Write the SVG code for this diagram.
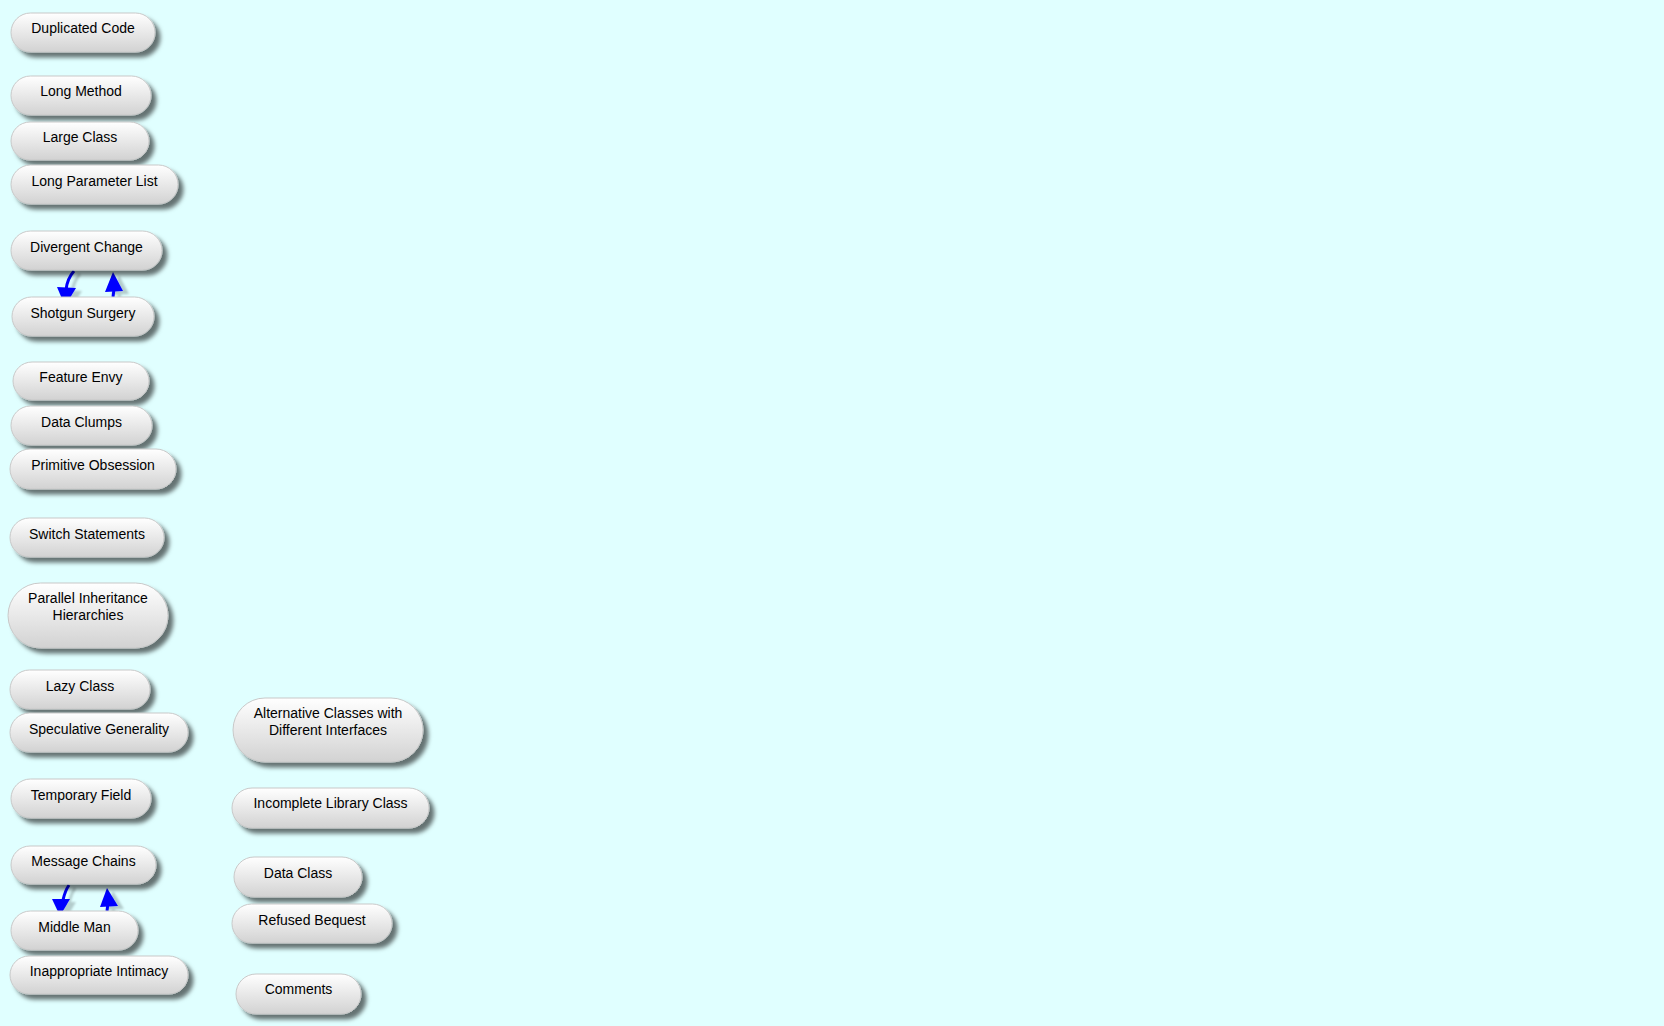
<svg xmlns="http://www.w3.org/2000/svg" width="1664" height="1026" viewBox="0 0 1664 1026">
<defs>
<linearGradient id="g" x1="0" y1="0" x2="0" y2="1">
<stop offset="0" stop-color="#ffffff"/>
<stop offset="1" stop-color="#d2d2d2"/>
</linearGradient>
<filter id="sh" x="-20%" y="-30%" width="150%" height="180%">
<feGaussianBlur in="SourceAlpha" stdDeviation="2"/>
<feOffset dx="5" dy="5" result="b"/>
<feFlood flood-color="#000" flood-opacity="0.55"/>
<feComposite in2="b" operator="in"/>
<feMerge><feMergeNode/><feMergeNode in="SourceGraphic"/></feMerge>
</filter>
<filter id="csh" x="-50%" y="-50%" width="200%" height="200%">
<feGaussianBlur in="SourceAlpha" stdDeviation="0.8"/>
<feOffset dx="6" dy="3" result="b"/>
<feFlood flood-color="#000" flood-opacity="0.2"/>
<feComposite in2="b" operator="in"/>
<feMerge><feMergeNode/><feMergeNode in="SourceGraphic"/></feMerge>
</filter>
</defs>
<style>
.n rect{fill:url(#g);stroke:#c8c8c8;stroke-width:1;filter:url(#sh)}
.n text{font-family:"Liberation Sans",Arial,sans-serif;font-size:14px;fill:#000;text-anchor:middle}
.c path.l{fill:none;stroke:#0000ff;stroke-width:3}
.c path.h{fill:#0000ff;stroke:none}
</style>
<rect width="1664" height="1026" fill="#e0ffff"/>
<g id="connectors" class="c" filter="url(#csh)">
<path class="l" d="M74,271 Q67,279 66,290"/>
<path class="h" d="M57,287 L76,288 L65,306 Z"/>
<path class="l" d="M113,297 L114,289"/>
<path class="h" d="M105,292 L123,291 L113,272 Z"/>
<path class="l" d="M69,885 Q65,891 63,900"/>
<path class="h" d="M52,899 L70,899 L60,916 Z"/>
<path class="l" d="M107,911 L108,903"/>
<path class="h" d="M100,907 L118,906 L107,888 Z"/>
</g>
<g id="n1" class="n"><rect x="11" y="13" width="144" height="39" rx="19.5"/><text x="83" y="33">Duplicated Code</text></g>
<g id="n2" class="n"><rect x="11" y="76" width="140" height="39" rx="19.5"/><text x="81" y="96">Long Method</text></g>
<g id="n3" class="n"><rect x="11" y="122" width="138" height="38" rx="19"/><text x="80" y="142">Large Class</text></g>
<g id="n4" class="n"><rect x="11" y="165" width="167" height="39" rx="19.5"/><text x="94.5" y="186">Long Parameter List</text></g>
<g id="n5" class="n"><rect x="11" y="231" width="151" height="39" rx="19.5"/><text x="86.5" y="252">Divergent Change</text></g>
<g id="n6" class="n"><rect x="12" y="297" width="142" height="39" rx="19.5"/><text x="83" y="318">Shotgun Surgery</text></g>
<g id="n7" class="n"><rect x="13" y="362" width="136" height="38" rx="19"/><text x="81" y="382">Feature Envy</text></g>
<g id="n8" class="n"><rect x="11" y="406" width="141" height="39" rx="19.5"/><text x="81.5" y="427">Data Clumps</text></g>
<g id="n9" class="n"><rect x="10" y="449" width="166" height="40" rx="20"/><text x="93" y="470">Primitive Obsession</text></g>
<g id="n10" class="n"><rect x="10" y="518" width="154" height="39" rx="19.5"/><text x="87" y="539">Switch Statements</text></g>
<g id="n11" class="n"><rect x="8" y="583" width="160" height="65" rx="32.5"/><text x="88" y="603">Parallel Inheritance</text><text x="88" y="620">Hierarchies</text></g>
<g id="n12" class="n"><rect x="10" y="670" width="140" height="39" rx="19.5"/><text x="80" y="691">Lazy Class</text></g>
<g id="n13" class="n"><rect x="10" y="713" width="178" height="39" rx="19.5"/><text x="99" y="734">Speculative Generality</text></g>
<g id="n14" class="n"><rect x="11" y="779" width="140" height="39" rx="19.5"/><text x="81" y="800">Temporary Field</text></g>
<g id="n15" class="n"><rect x="11" y="846" width="145" height="38" rx="19"/><text x="83.5" y="866">Message Chains</text></g>
<g id="n16" class="n"><rect x="11" y="911" width="127" height="39" rx="19.5"/><text x="74.5" y="932">Middle Man</text></g>
<g id="n17" class="n"><rect x="10" y="956" width="178" height="38" rx="19"/><text x="99" y="976">Inappropriate Intimacy</text></g>
<g id="n18" class="n"><rect x="233" y="698" width="190" height="64" rx="32"/><text x="328" y="718">Alternative Classes with</text><text x="328" y="735">Different Interfaces</text></g>
<g id="n19" class="n"><rect x="232" y="788" width="197" height="40" rx="20"/><text x="330.5" y="808">Incomplete Library Class</text></g>
<g id="n20" class="n"><rect x="234" y="857" width="128" height="40" rx="20"/><text x="298" y="878">Data Class</text></g>
<g id="n21" class="n"><rect x="232" y="904" width="160" height="39" rx="19.5"/><text x="312" y="925">Refused Bequest</text></g>
<g id="n22" class="n"><rect x="236" y="974" width="125" height="40" rx="20"/><text x="298.5" y="994">Comments</text></g>
</svg>
